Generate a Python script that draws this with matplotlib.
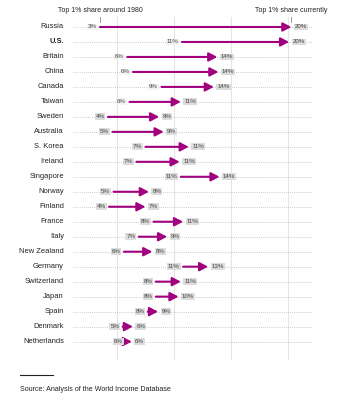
import matplotlib
matplotlib.use("Agg")
import matplotlib.pyplot as plt
from matplotlib.patches import FancyArrowPatch

countries = ["Russia", "U.S.", "Britain", "China", "Canada", "Taiwan", "Sweden",
             "Australia", "S. Korea", "Ireland", "Singapore", "Norway", "Finland",
             "France", "Italy", "New Zealand", "Germany", "Switzerland", "Japan",
             "Spain", "Denmark", "Netherlands"]
share_1980 = [3.5, 10.7, 5.9, 6.4, 8.9, 6.1, 4.2, 4.6, 7.5, 6.7, 10.6, 4.7, 4.3,
              8.2, 6.9, 5.6, 10.8, 8.4, 8.4, 7.7, 5.5, 5.8]
share_now = [20.3, 20.1, 13.8, 13.9, 13.5, 10.6, 8.7, 9.1, 11.3, 10.5, 14.0, 7.8, 7.5,
             10.8, 9.4, 8.1, 13.0, 10.6, 10.4, 8.6, 6.4, 6.3]
label_1980 = ["3%", "11%", "6%", "6%", "9%", "6%", "4%", "5%", "7%", "7%", "11%",
              "5%", "4%", "8%", "7%", "6%", "11%", "8%", "8%", "8%", "5%", "6%"]
label_now = ["20%", "20%", "14%", "14%", "14%", "11%", "9%", "9%", "11%", "11%", "14%",
             "8%", "7%", "11%", "9%", "8%", "13%", "11%", "10%", "9%", "6%", "6%"]
gridlines = [5, 10, 15, 20]

W, H = 364, 400
fig = plt.figure(figsize=(W / 100, H / 100), dpi=100)
ax = fig.add_axes([0, 0, 1, 1])
px_per_pct = 11.4
x0_px = 60
row0_px = 27
row_px = 14.98
ax.set_xlim(-x0_px / px_per_pct, (W - x0_px) / px_per_pct)
ax.set_ylim((H - row0_px) / row_px, -row0_px / row_px)
ax.axis("off")

def px2x(p):
    return (p - x0_px) / px_per_pct

def px2y(p):
    return (p - row0_px) / row_px

font = ["Liberation Sans", "DejaVu Sans"]
color = "#a1007e"

for g in gridlines:
    ax.plot([g, g], [px2y(17), px2y(359)], color="#e4e4e4", lw=0.8, zorder=0)

for i, (c, a, b, la, lb) in enumerate(zip(countries, share_1980, share_now, label_1980, label_now)):
    ax.plot([px2x(73), px2x(312)], [i, i], color="#bbbbbb", lw=0.6,
            linestyle=(0, (1, 1.5)), zorder=1)
    ax.text(px2x(64), i, c, ha="right", va="center", fontsize=5.4, family=font,
            color="#222222", fontweight="bold" if c == "U.S." else "normal")
    arr = FancyArrowPatch((a, i), (b, i), arrowstyle="-|>,head_length=0.5,head_width=0.26",
                          mutation_scale=10, color=color, lw=1.5, shrinkA=0, shrinkB=0,
                          zorder=3)
    ax.add_patch(arr)
    bg1 = "#f3f3f3" if i < 6 else "#dcdcdc"
    ax.text(a - 0.3, i, la, ha="right", va="center", fontsize=4.4, family=font,
            color="#444444", zorder=4,
            bbox=dict(boxstyle="square,pad=0.15", fc=bg1, ec="none"))
    ax.text(b + 0.3, i, lb, ha="left", va="center", fontsize=4.4, family=font,
            color="#444444", zorder=4,
            bbox=dict(boxstyle="square,pad=0.15", fc="#dcdcdc", ec="none"))

# column headers
ax.text(share_1980[0], px2y(10), "Top 1% share around 1980", ha="center", va="center",
        fontsize=5.0, family=font, color="#222222")
ax.text(share_now[0], px2y(10), "Top 1% share currently", ha="center", va="center",
        fontsize=5.0, family=font, color="#222222")
ax.plot([share_1980[0]] * 2, [px2y(17), px2y(22)], color="#888888", lw=0.6)
ax.plot([share_now[0]] * 2, [px2y(17), px2y(22)], color="#888888", lw=0.6)

# source
ax.plot([px2x(20), px2x(53)], [px2y(375), px2y(375)], color="#222222", lw=0.8)
ax.text(px2x(20), px2y(390), "Source: Analysis of the World Income Database", ha="left",
        va="center", fontsize=5.1, family=font, color="#222222")

fig.savefig("out.png", dpi=100)
